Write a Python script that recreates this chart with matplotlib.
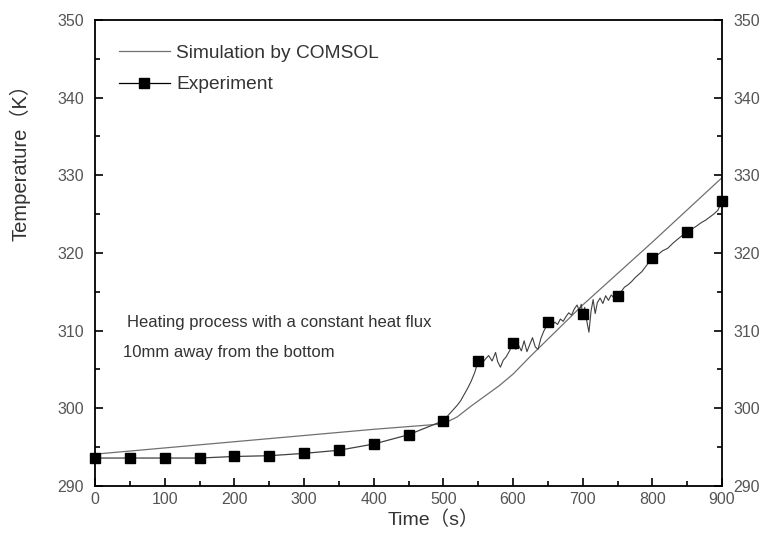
import matplotlib
matplotlib.use('Agg')
import matplotlib.pyplot as plt
from matplotlib.ticker import MultipleLocator

plt.rcParams['font.family'] = ['Liberation Sans', 'Noto Sans CJK SC', 'DejaVu Sans']

# simulation curve (COMSOL)
sim_t = [0, 100, 200, 300, 400, 500, 520, 540, 560, 580, 600, 625, 700, 800, 900]
sim_T = [294.1, 294.9, 295.7, 296.5, 297.3, 298.0, 298.9, 300.3, 301.6, 302.9,
         304.4, 306.7, 313.3, 321.4, 329.7]

# experiment markers
exp_t = [0, 50, 100, 150, 200, 250, 300, 350, 400, 450, 500, 550, 600, 650,
         700, 750, 800, 850, 900]
exp_T = [293.6, 293.6, 293.6, 293.6, 293.8, 293.9, 294.2, 294.6, 295.4, 296.6,
         298.4, 306.1, 308.4, 311.1, 312.1, 314.5, 319.3, 322.7, 326.7]

# measured trace after 500 s
trace_t = [500, 505, 510, 515, 520, 525, 530, 535, 540, 545, 550, 555, 560, 565,
           570, 575, 578, 582, 586, 590, 595, 600, 604, 608, 612, 616, 620, 624,
           628, 632, 636, 640, 644, 648, 650, 655, 660, 664, 668, 672, 676, 680,
           684, 688, 692, 695, 698, 700, 703, 706, 709, 712, 715, 718, 721, 725,
           729, 733, 737, 741, 745, 750, 755, 760, 765, 770, 775, 780, 785, 790,
           795, 800, 808, 815, 822, 830, 838, 845, 850, 857, 864, 870, 876, 882,
           888, 894, 900]
trace_T = [298.4, 298.9, 299.4, 299.9, 300.4, 301.0, 301.8, 302.6, 303.5, 304.6,
           306.1, 305.7, 306.3, 306.8, 306.1, 307.2, 306.0, 305.3, 306.2, 306.6,
           307.4, 308.4, 307.6, 308.1, 307.4, 308.7, 307.3, 308.2, 309.1, 307.9,
           307.6, 309.0, 309.9, 310.6, 311.1, 310.5, 311.1, 310.8, 311.5, 311.2,
           311.8, 312.3, 312.0, 312.8, 313.3, 312.6, 313.4, 312.1, 313.0, 311.2,
           309.8, 312.5, 314.0, 312.2, 313.6, 314.2, 313.5, 314.5, 313.9, 314.6,
           314.2, 314.5, 315.0, 315.6, 315.9, 316.3, 316.8, 317.2, 317.6, 318.2,
           318.8, 319.3, 319.8, 320.3, 320.6, 321.3, 321.9, 322.4, 322.7, 323.1,
           323.5, 323.9, 324.2, 324.6, 325.0, 325.5, 326.7]

fig = plt.figure(figsize=(7.69, 5.33), dpi=100)
ax = fig.add_axes([95 / 769, 1 - 486 / 533, 627 / 769, 466 / 533])

ax.plot(sim_t, sim_T, '-', color='#707070', lw=0.9, label='Simulation by COMSOL')
ax.plot(exp_t[:11], exp_T[:11], '-', color='#404040', lw=0.9)
ax.plot(trace_t, trace_T, '-', color='#404040', lw=0.8)
ax.plot(exp_t, exp_T, 's', color='black', ms=7.5, clip_on=False)
# legend proxy for experiment
ax.plot([], [], '-s', color='black', ms=7, lw=0.9, label='Experiment')

ax.set_xlim(0, 900)
ax.set_ylim(290, 350)
ax.xaxis.set_major_locator(MultipleLocator(100))
ax.xaxis.set_minor_locator(MultipleLocator(50))
ax.yaxis.set_major_locator(MultipleLocator(10))
ax.yaxis.set_minor_locator(MultipleLocator(5))
ax.tick_params(which='both', direction='in', top=False, right=True,
               labelright=True, labelsize=11.5, labelcolor='#555555', width=1.2)
ax.tick_params(which='major', length=6)
ax.tick_params(which='minor', length=3.5)
ax.tick_params(axis='y', pad=8)
ax.tick_params(axis='x', pad=4)
for s in ax.spines.values():
    s.set_linewidth(1.3)

fig.text(433 / 769, 1 - 520 / 533, 'Time（s）', ha='center', va='center',
         fontsize=14, color='#333333')
fig.text(20 / 769, 1 - 158 / 533, 'Temperature（K）', ha='center', va='center',
         rotation=90, fontsize=14.5, color='#333333')

ax.text(46, 311.0, 'Heating process with a constant heat flux', fontsize=12,
        color='#333333', va='center')
ax.text(40, 307.2, '10mm away from the bottom', fontsize=12,
        color='#333333', va='center')

leg = ax.legend(loc='upper left', bbox_to_anchor=(0.01, 0.985), frameon=False,
                fontsize=13.8, handlelength=2.7, labelspacing=0.75,
                handletextpad=0.3)
for t in leg.get_texts():
    t.set_color('#333333')

fig.savefig('out.png', dpi=100)
